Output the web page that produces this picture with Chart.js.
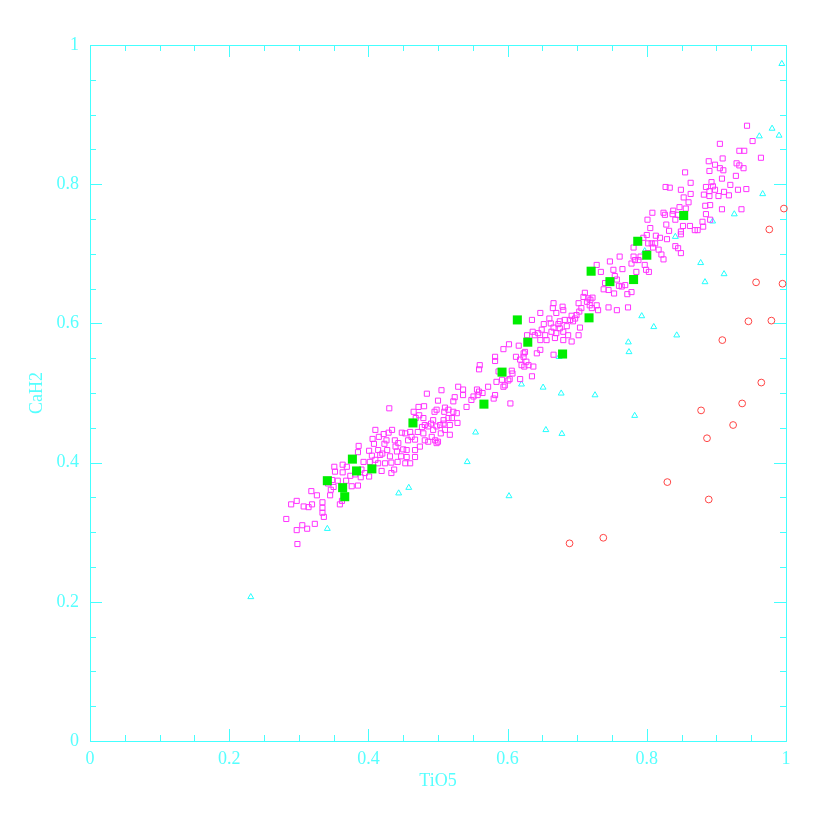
<!DOCTYPE html>
<html>
<head>
<meta charset="utf-8">
<script src="https://cdn.jsdelivr.net/npm/chart.js@4/dist/chart.umd.min.js"></script>
<style>
  body { margin: 0; background: #fff; }
  canvas { display: block; }
</style>
</head>
<body>
<canvas id="scatter" width="830" height="830"></canvas>
<script>
// axis text
const xTitle = "TiO5";
const yTitle = "CaH2";
const majorTicks = [0, 0.2, 0.4, 0.6, 0.8, 1];
const minorTicks = [0.05, 0.1, 0.15, 0.25, 0.3, 0.35, 0.45, 0.5, 0.55, 0.65, 0.7, 0.75, 0.85, 0.9, 0.95];

// open magenta squares [TiO5, CaH2]
const magentaSquares = [
    [0.298,0.283],[0.297,0.303],[0.305,0.310],[0.312,0.305],[0.323,0.312],[0.282,0.319],[0.289,0.340],[0.297,0.345],
    [0.307,0.337],[0.314,0.336],[0.319,0.340],[0.318,0.359],[0.326,0.353],[0.334,0.343],[0.334,0.335],[0.334,0.328],
    [0.336,0.322],[0.359,0.340],[0.362,0.345],[0.345,0.353],[0.346,0.361],[0.351,0.394],[0.352,0.387],[0.356,0.374],
    [0.363,0.397],[0.363,0.386],[0.368,0.374],[0.369,0.394],[0.376,0.366],[0.381,0.383],[0.385,0.367],[0.386,0.424],
    [0.385,0.415],[0.389,0.379],[0.393,0.401],[0.395,0.385],[0.401,0.380],[0.401,0.417],[0.406,0.434],[0.408,0.427],
    [0.410,0.447],[0.405,0.410],[0.415,0.437],[0.414,0.418],[0.414,0.399],[0.419,0.388],[0.422,0.441],[0.423,0.427],
    [0.427,0.418],[0.429,0.443],[0.431,0.409],[0.433,0.400],[0.433,0.385],[0.434,0.447],[0.437,0.390],[0.438,0.432],
    [0.441,0.416],[0.442,0.401],[0.443,0.428],[0.448,0.443],[0.447,0.409],[0.450,0.419],[0.350,0.365],[0.342,0.370],
    [0.348,0.375],[0.374,0.381],[0.390,0.390],[0.410,0.404],[0.417,0.411],[0.424,0.399],[0.426,0.432],[0.420,0.413],
    [0.402,0.401],[0.439,0.423],[0.430,0.478],
    [0.453,0.442],[0.455,0.418],[0.457,0.432],[0.460,0.444],[0.462,0.437],[0.467,0.433],[0.471,0.444],[0.474,0.423],
    [0.467,0.418],[0.479,0.442],[0.481,0.432],[0.486,0.430],[0.491,0.437],[0.493,0.447],[0.496,0.432],[0.498,0.428],
    [0.500,0.430],[0.490,0.456],[0.493,0.461],[0.498,0.452],[0.503,0.454],[0.508,0.456],[0.509,0.473],[0.508,0.461],
    [0.515,0.464],[0.517,0.454],[0.520,0.464],[0.522,0.473],[0.527,0.471],[0.522,0.488],[0.524,0.494],[0.529,0.509],
    [0.536,0.505],[0.536,0.497],[0.541,0.480],[0.548,0.490],[0.551,0.495],[0.557,0.497],[0.556,0.505],[0.559,0.502],
    [0.564,0.500],[0.572,0.509],[0.580,0.492],[0.582,0.497],[0.584,0.516],[0.587,0.531],[0.594,0.509],[0.596,0.511],
    [0.601,0.518],[0.603,0.520],[0.606,0.532],[0.607,0.528],[0.604,0.485],[0.560,0.540],[0.559,0.534],[0.582,0.552],
    [0.582,0.546],[0.594,0.563],[0.602,0.570],[0.612,0.552],[0.616,0.568],[0.618,0.548],[0.620,0.540],[0.623,0.557],
    [0.618,0.520],[0.592,0.519],[0.505,0.504],[0.500,0.489],[0.484,0.499],[0.480,0.481],[0.472,0.480],[0.473,0.468],
    [0.465,0.473],[0.468,0.464],[0.479,0.464],[0.481,0.454],[0.486,0.452],[0.477,0.451],[0.517,0.440],[0.510,0.479],
    [0.498,0.476],[0.495,0.473],[0.515,0.476],[0.528,0.457],[0.504,0.442],[0.510,0.447],[0.455,0.408],[0.460,0.399],
    [0.453,0.399],[0.467,0.408],
    [0.623,0.552],[0.625,0.559],[0.624,0.538],[0.630,0.540],[0.637,0.538],[0.627,0.545],[0.628,0.583],[0.635,0.605],
    [0.636,0.588],[0.639,0.583],[0.644,0.586],[0.647,0.576],[0.649,0.591],[0.652,0.599],[0.654,0.583],[0.656,0.576],
    [0.660,0.607],[0.662,0.600],[0.663,0.588],[0.666,0.594],[0.668,0.579],[0.670,0.586],[0.670,0.615],[0.673,0.599],
    [0.675,0.593],[0.679,0.624],[0.680,0.619],[0.682,0.605],[0.685,0.596],[0.687,0.583],[0.690,0.605],[0.692,0.611],
    [0.694,0.603],[0.697,0.607],[0.699,0.612],[0.702,0.629],[0.703,0.617],[0.704,0.594],[0.706,0.622],[0.709,0.638],
    [0.711,0.644],[0.714,0.631],[0.716,0.636],[0.719,0.634],[0.722,0.637],[0.718,0.626],[0.721,0.622],[0.728,0.626],
    [0.730,0.619],[0.666,0.629],[0.665,0.622],[0.647,0.615],[0.680,0.588],[0.680,0.576],[0.692,0.574],[0.702,0.583],
    [0.666,0.555],[0.642,0.557],[0.635,0.524],[0.675,0.603],[0.647,0.562],[0.728,0.684],[0.734,0.674],[0.747,0.689],
    [0.752,0.677],[0.754,0.668],[0.757,0.663],[0.761,0.696],[0.765,0.678],[0.740,0.658],[0.738,0.649],[0.745,0.648],
    [0.753,0.643],[0.760,0.654],[0.764,0.653],[0.769,0.655],[0.772,0.642],[0.778,0.645],[0.785,0.674],[0.778,0.686],
    [0.781,0.696],[0.783,0.691],[0.788,0.691],[0.797,0.684],[0.799,0.677],[0.803,0.674],[0.745,0.623],[0.757,0.619],
    [0.773,0.623],[0.801,0.701],[0.791,0.696],[0.781,0.709],
    [0.855,0.817],[0.863,0.802],[0.890,0.819],[0.905,0.823],[0.910,0.820],[0.908,0.808],[0.928,0.812],[0.939,0.823],
    [0.933,0.827],[0.827,0.796],[0.833,0.795],[0.849,0.792],[0.863,0.786],[0.893,0.803],[0.895,0.797],[0.885,0.796],
    [0.890,0.790],[0.898,0.792],[0.890,0.783],[0.882,0.785],[0.903,0.783],[0.911,0.789],[0.918,0.784],[0.920,0.799],
    [0.931,0.792],[0.943,0.793],[0.853,0.781],[0.860,0.774],[0.847,0.767],[0.856,0.765],[0.884,0.769],[0.891,0.770],
    [0.908,0.764],[0.936,0.764],[0.885,0.757],[0.891,0.749],[0.880,0.746],[0.881,0.739],[0.869,0.734],[0.873,0.734],
    [0.862,0.740],[0.852,0.740],[0.849,0.732],[0.849,0.728],[0.808,0.759],[0.824,0.759],[0.826,0.756],[0.837,0.757],
    [0.838,0.762],[0.841,0.749],[0.845,0.756],[0.801,0.749],[0.805,0.737],[0.828,0.742],[0.832,0.733],[0.813,0.726],
    [0.800,0.727],[0.795,0.723],[0.819,0.723],[0.829,0.721],[0.802,0.715],[0.807,0.715],[0.812,0.715],[0.809,0.709],
    [0.817,0.706],[0.821,0.699],[0.824,0.692],[0.841,0.711],[0.845,0.708],[0.849,0.701],
    [0.944,0.884],[0.952,0.862],[0.905,0.858],[0.933,0.848],[0.940,0.848],[0.964,0.838],[0.909,0.837],[0.889,0.833],
    [0.898,0.828],[0.929,0.830]
];

// filled green squares
const greenSquares = [
    [0.341,0.374],[0.377,0.405],[0.383,0.388],[0.363,0.364],[0.366,0.351],[0.405,0.391],[0.464,0.457],[0.566,0.484],
    [0.592,0.530],[0.614,0.605],[0.629,0.573],[0.679,0.556],[0.717,0.608],[0.720,0.675],[0.747,0.660],[0.781,0.663],
    [0.787,0.718],[0.800,0.698],[0.853,0.755]
];

// open cyan triangles
const cyanTriangles = [
    [0.231,0.207],[0.341,0.305],[0.4435,0.356],[0.458,0.364],[0.542,0.401],[0.554,0.4435],[0.602,0.352],[0.620,0.5125],
    [0.651,0.508],[0.655,0.447],[0.677,0.4995],[0.678,0.4415],[0.674,0.552],[0.7256,0.497],[0.7826,0.4674],[0.7735,0.573],
    [0.7744,0.559],[0.7927,0.6106],[0.810,0.595],[0.843,0.583],[0.8774,0.687],[0.8836,0.6595],[0.911,0.671],[0.797,0.704],
    [0.841,0.7246],[0.8946,0.7467],[0.9257,0.757],[0.9665,0.786],[0.9617,0.869],[0.980,0.880],[0.990,0.870],[0.994,0.973]
];

// open red circles
const redCircles = [
    [0.997,0.765],[0.976,0.735],[0.957,0.659],[0.995,0.657],[0.946,0.603],[0.979,0.604],[0.9085,0.576],[0.9645,0.515],
    [0.937,0.485],[0.878,0.475],[0.924,0.454],[0.8865,0.435],[0.8295,0.372],[0.889,0.347],[0.7375,0.292],[0.689,0.284]
];

const axisColor = '#44ffff';
const textColor = '#55ffff';
const serif = { family: "'Liberation Serif', 'DejaVu Serif', serif", size: 18 };

function toXY(list) {
    return list.map(p => ({ x: p[0], y: p[1] }));
}

// "1" not "1.0", "0.2" etc
function tickText(v) {
    return String(+Number(v).toFixed(2));
}

// box round the plot with inward ticks on all four sides
const frameTicks = {
    id: 'frameTicks',
    beforeDatasetsDraw(chart) {
        const { ctx, chartArea: a, scales } = chart;
        ctx.save();
        ctx.strokeStyle = axisColor;
        ctx.lineWidth = 1;
        ctx.strokeRect(a.left + 0.5, a.top + 0.5, a.right - a.left, a.bottom - a.top);
        ctx.beginPath();
        const draw = (vals, len) => {
            vals.forEach(v => {
                const px = Math.round(scales.x.getPixelForValue(v)) + 0.5;
                ctx.moveTo(px, a.bottom); ctx.lineTo(px, a.bottom - len);
                ctx.moveTo(px, a.top); ctx.lineTo(px, a.top + len);
                const py = Math.round(scales.y.getPixelForValue(v)) + 0.5;
                ctx.moveTo(a.left, py); ctx.lineTo(a.left + len, py);
                ctx.moveTo(a.right, py); ctx.lineTo(a.right - len, py);
            });
        };
        draw(majorTicks, 12);
        draw(minorTicks, 6);
        ctx.stroke();
        ctx.restore();
    }
};

const ctx = document.getElementById('scatter').getContext('2d');

let config = {
    type: 'scatter',
    data: {
        datasets: [
            {
                label: 'green',
                data: toXY(greenSquares),
                pointStyle: 'rect',
                pointRadius: 6.4,
                backgroundColor: '#00ee00',
                borderColor: '#00ee00',
                borderWidth: 0,
                clip: false
            },
            {
                label: 'magenta',
                data: toXY(magentaSquares),
                pointStyle: 'rect',
                pointRadius: 3.6,
                backgroundColor: 'rgba(0,0,0,0)',
                borderColor: '#ff33ff',
                borderWidth: 1,
                clip: false
            },
            {
                label: 'cyan',
                data: toXY(cyanTriangles),
                pointStyle: 'triangle',
                pointRadius: 3.4,
                backgroundColor: 'rgba(0,0,0,0)',
                borderColor: '#22ffff',
                borderWidth: 1,
                clip: false
            },
            {
                label: 'red',
                data: toXY(redCircles),
                pointStyle: 'circle',
                pointRadius: 3.4,
                backgroundColor: 'rgba(0,0,0,0)',
                borderColor: '#ff4444',
                borderWidth: 1,
                clip: false
            }
        ]
    },
    options: {
        responsive: false,
        animation: false,
        layout: { padding: { top: 45, right: 44, left: 0, bottom: 0 } },
        plugins: {
            legend: { display: false },
            tooltip: { enabled: false }
        },
        scales: {
            x: {
                type: 'linear',
                min: 0,
                max: 1,
                afterFit(s) { s.height = 89; },
                grid: { display: false, drawTicks: false },
                border: { display: false },
                afterBuildTicks(s) { s.ticks = majorTicks.map(v => ({ value: v })); },
                ticks: { color: textColor, font: serif, padding: 7, maxRotation: 0, callback: tickText },
                title: { display: true, text: xTitle, color: textColor, font: serif, padding: { top: 38, bottom: 38 } }
            },
            y: {
                type: 'linear',
                min: 0,
                max: 1,
                afterFit(s) { s.width = 90; },
                grid: { display: false, drawTicks: false },
                border: { display: false },
                afterBuildTicks(s) { s.ticks = majorTicks.map(v => ({ value: v })); },
                ticks: { color: textColor, font: serif, padding: 11, callback: tickText },
                title: { display: true, text: yTitle, color: textColor, font: serif, padding: { top: 26, bottom: 26 } }
            }
        }
    },
    plugins: [frameTicks]
};

const mychart = new Chart(ctx, config);
</script>
</body>
</html>
